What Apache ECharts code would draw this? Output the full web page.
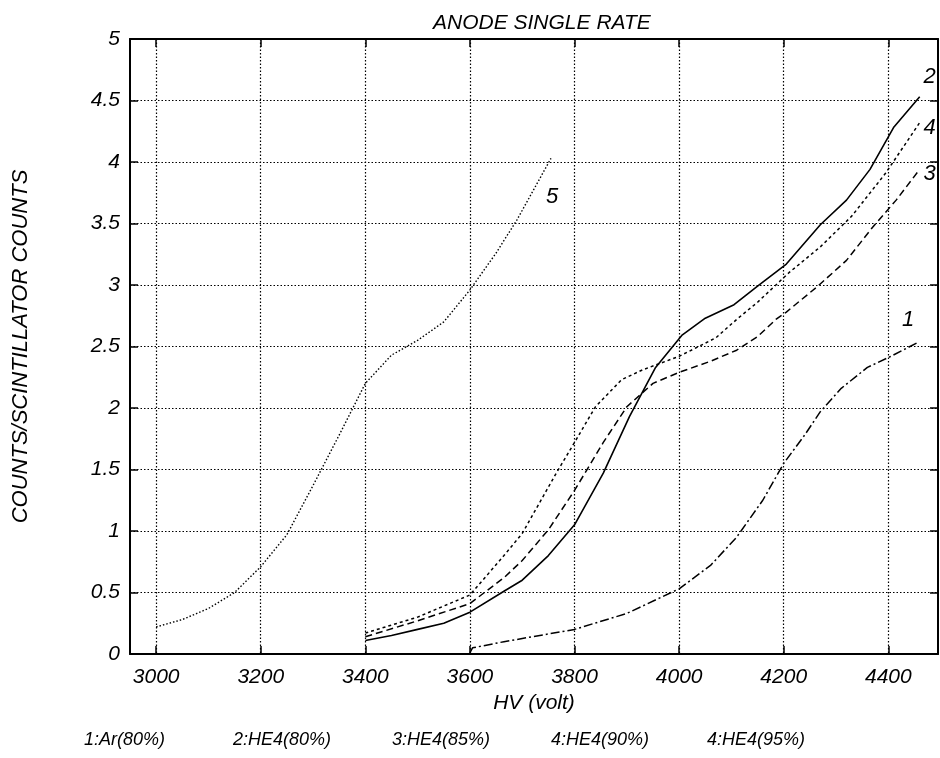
<!DOCTYPE html>
<html>
<head>
<meta charset="utf-8">
<title>Anode single rate</title>
<script src="https://cdn.jsdelivr.net/npm/echarts@6/dist/echarts.min.js"></script>
<style>
  html, body { margin: 0; padding: 0; background: #fff; }
  #chart { width: 940px; height: 758px; }
</style>
</head>
<body>
<div id="chart"></div>
<script>
// axis window and tick values
const hvMin = 2950;
const hvMax = 4495;
const hvTicks = [3000, 3200, 3400, 3600, 3800, 4000, 4200, 4400];

// curve data [HV, counts/scintillator counts]
const ar80 = [
  [3600, 0.01], [3605, 0.05], [3665, 0.1], [3800, 0.2], [3900, 0.33], [4000, 0.53],
  [4060, 0.72], [4110, 0.95], [4160, 1.25], [4200, 1.55], [4240, 1.78],
  [4270, 1.97], [4310, 2.16], [4360, 2.33], [4405, 2.42], [4455, 2.53]
];
const he80 = [
  [3400, 0.11], [3450, 0.15], [3500, 0.2], [3550, 0.25], [3600, 0.34], [3665, 0.51],
  [3700, 0.6], [3750, 0.8], [3800, 1.05], [3855, 1.47], [3905, 1.93],
  [3955, 2.33], [4005, 2.59], [4050, 2.73], [4105, 2.84], [4150, 2.99],
  [4205, 3.17], [4270, 3.49], [4320, 3.69], [4365, 3.94], [4410, 4.28], [4460, 4.53]
];
const he85 = [
  [3400, 0.14], [3500, 0.27], [3600, 0.41], [3665, 0.62], [3700, 0.76], [3750, 1.01],
  [3800, 1.33], [3855, 1.72], [3900, 2.01], [3950, 2.2], [4000, 2.29],
  [4060, 2.38], [4110, 2.47], [4150, 2.58], [4185, 2.72], [4205, 2.78],
  [4265, 2.99], [4320, 3.2], [4370, 3.47], [4415, 3.69], [4460, 3.94]
];
const he90 = [
  [3400, 0.17], [3500, 0.3], [3600, 0.48], [3665, 0.8], [3700, 0.98], [3765, 1.47],
  [3800, 1.72], [3840, 2.01], [3890, 2.23], [3930, 2.31], [4000, 2.42],
  [4070, 2.57], [4110, 2.72], [4150, 2.86], [4210, 3.1], [4270, 3.31],
  [4330, 3.56], [4395, 3.91], [4460, 4.32]
];
const he95 = [
  [3000, 0.22], [3050, 0.28], [3100, 0.37], [3150, 0.5], [3200, 0.71], [3250, 0.97],
  [3300, 1.37], [3350, 1.78], [3400, 2.2], [3450, 2.43], [3500, 2.55],
  [3550, 2.7], [3600, 2.96], [3650, 3.26], [3690, 3.53], [3755, 4.03]
];

const legendLabels = ['1:Ar(80%)', '2:HE4(80%)', '3:HE4(85%)', '4:HE4(90%)', '4:HE4(95%)'];
const curveTags = ['1', '2', '3', '4', '5'];

const FONT = "'Liberation Sans', Arial, sans-serif";
const chart = echarts.init(document.getElementById('chart'));

const txt = (size) => ({ fontFamily: FONT, fontStyle: 'italic', fontSize: size, color: '#000' });

function curve(idx, data, lineType, width, tagOffset) {
  return {
    name: legendLabels[idx],
    type: 'line',
    data: data,
    showSymbol: false,
    silent: true,
    lineStyle: { color: '#000', width: width, type: lineType },
    endLabel: {
      show: true,
      formatter: curveTags[idx],
      distance: 0,
      align: 'center',
      verticalAlign: 'middle',
      offset: tagOffset,
      ...txt(22)
    }
  };
}

const frameX = (pos, showLabel) => ({
  type: 'value',
  position: pos,
  min: hvMin,
  max: hvMax,
  axisLine: { show: true, onZero: false, lineStyle: { color: '#000', width: 2 } },
  axisTick: { show: true, inside: true, length: 8, customValues: hvTicks, lineStyle: { color: '#000', width: 1.5 } },
  axisLabel: { show: showLabel, customValues: hvTicks, margin: 13, formatter: (v) => String(v), ...txt(21) },
  splitLine: { show: showLabel, lineStyle: { color: '#000', width: 1.2, type: [1.5, 2] } }
});

const frameY = (pos, showLabel) => ({
  type: 'value',
  position: pos,
  min: 0,
  max: 5,
  interval: 0.5,
  axisLine: { show: true, onZero: false, lineStyle: { color: '#000', width: 2 } },
  axisTick: { show: true, inside: true, length: 8, lineStyle: { color: '#000', width: 1.5 } },
  axisLabel: { show: showLabel, margin: 10, ...txt(21) },
  splitLine: { show: showLabel, lineStyle: { color: '#000', width: 1.2, type: [1.5, 2] } }
});

const xBottom = frameX('bottom', true);
xBottom.name = 'HV (volt)';
xBottom.nameLocation = 'middle';
xBottom.nameGap = 35;
xBottom.nameTextStyle = txt(21);

const yLeft = frameY('left', true);
yLeft.name = 'COUNTS/SCINTILLATOR COUNTS';
yLeft.nameLocation = 'middle';
yLeft.nameRotate = 90;
yLeft.nameGap = 98;
yLeft.nameTextStyle = txt(22);

const option = {
  backgroundColor: '#fff',
  animation: false,
  title: {
    text: 'ANODE SINGLE RATE',
    left: 428,
    top: 8,
    textStyle: { ...txt(21), fontWeight: 'normal' }
  },
  grid: { left: 130, top: 39, right: 2, bottom: 104, containLabel: false },
  xAxis: [xBottom, frameX('top', false)],
  yAxis: [yLeft, frameY('right', false)],
  graphic: legendLabels.map((label, i) => ({
    type: 'text',
    left: [84, 233, 392, 551, 707][i],
    top: 731,
    style: { text: label, font: 'italic 18px ' + FONT, fill: '#000' }
  })),
  series: [
    curve(0, ar80, [9, 3, 2, 3], 1.5, [-9, -23]),
    curve(1, he80, 'solid', 1.6, [10, -20]),
    curve(2, he85, [7, 4], 1.5, [10, 4]),
    curve(3, he90, [3, 3], 1.5, [10, 5]),
    curve(4, he95, [1.5, 2], 1.4, [1, 39])
  ]
};

chart.setOption(option);
window.addEventListener('resize', () => chart.resize());
</script>
</body>
</html>
